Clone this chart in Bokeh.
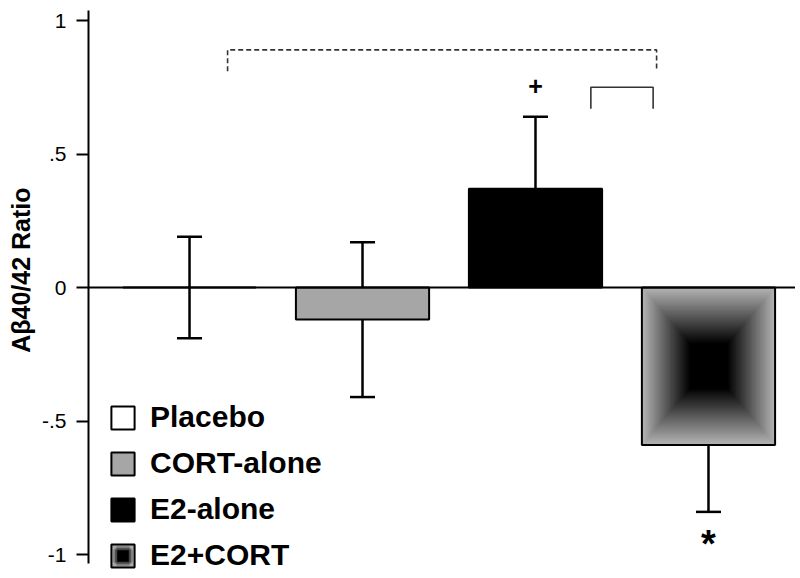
import numpy as np
from bokeh.plotting import figure
from bokeh.models import (ColumnDataSource, Range1d, FixedTicker, Whisker, TeeHead,
                          Span, Legend, LegendItem, Title)
from bokeh.core.properties import value
from bokeh.embed import file_html
from bokeh.resources import INLINE

# ---------------- data ----------------
groups = ["Placebo", "CORT-alone", "E2-alone", "E2+CORT"]
means = [0.0, -0.12, 0.37, -0.59]
sems = [0.19, 0.29, 0.27, 0.25]
sig_marks = ["", "", "+", "*"]

y_ticks = [-1, -0.5, 0, 0.5, 1]
y_tick_labels = ["-1", "-.5", "0", ".5", "1"]

# significance brackets (x from, x to, height, leg drop, dash)
bracket_x0 = [1.22, 3.32]
bracket_x1 = [3.70, 3.68]
bracket_y = [0.89, 0.75]
bracket_drop = [0.08, 0.08]
bracket_dash = ["5 3", "solid"]

FONT = "Liberation Sans"
BAR_W = 0.77
W, H = 795, 572
xs = list(range(1, len(groups) + 1))

p = figure(width=W, height=H, x_range=Range1d(0.416, 4.503),
           y_range=Range1d(-1.067, 1.075), output_backend="svg",
           toolbar_location=None, min_border_left=88, min_border_right=0,
           min_border_top=0, min_border_bottom=0)
p.xaxis.visible = False
p.xgrid.visible = False
p.ygrid.visible = False
p.outline_line_color = None

ya = p.yaxis[0]
ya.ticker = FixedTicker(ticks=y_ticks)
ya.major_label_overrides = {t: l for t, l in zip(y_ticks, y_tick_labels)}
ya.bounds = (-1.034, 1.037)
ya.axis_line_width = 2
ya.axis_line_color = "black"
ya.major_tick_line_width = 2
ya.major_tick_line_color = "black"
ya.major_tick_out = 12
ya.major_tick_in = 0
ya.minor_tick_line_color = None
ya.major_label_text_font = FONT
ya.major_label_text_font_size = "21px"
ya.major_label_text_color = "black"
ya.major_label_standoff = 10

# y-axis title, as a side title so its vertical position can be set
p.add_layout(Title(text="Aβ40/42 Ratio", align="right", offset=187,
                   vertical_align="middle", text_font=FONT,
                   text_font_style="bold", text_font_size="25px",
                   text_color="black", standoff=6), "left")

# error bars (drawn under bars)
err_src = ColumnDataSource(dict(x=xs,
                                upper=[m + s for m, s in zip(means, sems)],
                                lower=[m - s for m, s in zip(means, sems)]))
whisk = Whisker(source=err_src, base="x", upper="upper", lower="lower",
                level="underlay", line_width=2.5, line_color="black",
                upper_head=TeeHead(size=25, line_width=2.5, line_color="black"),
                lower_head=TeeHead(size=25, line_width=2.5, line_color="black"))
p.add_layout(whisk)

# gradient fill for E2+CORT bar (rectangular radial gradient)
n = 240
u = np.linspace(-1, 1, n)
U, V = np.meshgrid(u, u)
t = np.maximum(np.abs(U), np.abs(V))
g = (np.clip((t - 0.28) / 0.72, 0, 1) * 182).astype(np.uint8)
img = np.empty((n, n), dtype=np.uint32)
view = img.view(dtype=np.uint8).reshape((n, n, 4))
view[:, :, 0] = g
view[:, :, 1] = g
view[:, :, 2] = g
view[:, :, 3] = 255
m4 = means[3]
p.image_rgba(image=[img], x=xs[3] - BAR_W / 2, y=min(0, m4), dw=BAR_W, dh=abs(m4))

bar_src = ColumnDataSource(dict(x=xs, top=means,
                                fill=["white", "#a6a6a6", "black", "white"],
                                alpha=[1, 1, 1, 0]))
p.vbar(x="x", top="top", bottom=0, width=BAR_W, fill_color="fill",
       fill_alpha="alpha", line_color="black", line_width=2, source=bar_src)

p.add_layout(Span(location=0, dimension="width", line_color="black",
                  line_width=2, level="overlay"))

# brackets
for x0, x1, y, d, dash in zip(bracket_x0, bracket_x1, bracket_y, bracket_drop, bracket_dash):
    p.line(x=[x0, x0, x1, x1], y=[y - d, y, y, y - d], line_color="#333333",
           line_width=1.6, line_dash=dash)

# significance marks
plus_src = ColumnDataSource(dict(x=[xs[2]], y=[means[2] + sems[2] + 0.115], t=[sig_marks[2]]))
p.text(x="x", y="y", text="t", source=plus_src, text_font=value(FONT),
       text_font_style="bold", text_font_size="25px", text_align="center",
       text_baseline="middle", text_color="black")
star_src = ColumnDataSource(dict(x=[xs[3]], y=[means[3] - sems[3] - 0.12], t=[sig_marks[3]]))
p.text(x="x", y="y", text="t", source=star_src, text_font=value(FONT),
       text_font_style="bold", text_font_size="38px", text_align="center",
       text_baseline="middle", text_color="black")

# legend proxies (NaN data: drawn only in the legend)
nan = [float("nan")]
r_pl = p.vbar(x=nan, top=nan, width=0.5, fill_color="white", line_color="black", line_width=2)
r_co = p.vbar(x=nan, top=nan, width=0.5, fill_color="#a6a6a6", line_color="black", line_width=2)
r_e2 = p.vbar(x=nan, top=nan, width=0.5, fill_color="black", line_color="black", line_width=2)
r_ec = p.vbar(x=nan, top=nan, width=0.5, fill_color="#aaaaaa", line_color="black", line_width=2)
r_ec2 = p.scatter(x=nan, y=nan, marker="square", size=10, fill_color="#555555",
                  line_color="#7c7c7c", line_width=8)
r_ec3 = p.scatter(x=nan, y=nan, marker="square", size=10, fill_color="#222222",
                  line_color="#454545", line_width=4)
r_ec4 = p.scatter(x=nan, y=nan, marker="square", size=10, fill_color="black",
                  line_color=None)

legend = Legend(items=[LegendItem(label=groups[0], renderers=[r_pl]),
                       LegendItem(label=groups[1], renderers=[r_co]),
                       LegendItem(label=groups[2], renderers=[r_e2]),
                       LegendItem(label=groups[3], renderers=[r_ec, r_ec2, r_ec3, r_ec4])],
                location=(20, 0), padding=0, margin=0, border_line_color=None,
                background_fill_alpha=0, glyph_width=29, glyph_height=29,
                label_standoff=13, spacing=12, label_height=29,
                label_text_font=FONT, label_text_font_style="bold",
                label_text_font_size="30px", label_text_color="black")
p.add_layout(legend)

open("out.html", "w").write(file_html(p, INLINE))
